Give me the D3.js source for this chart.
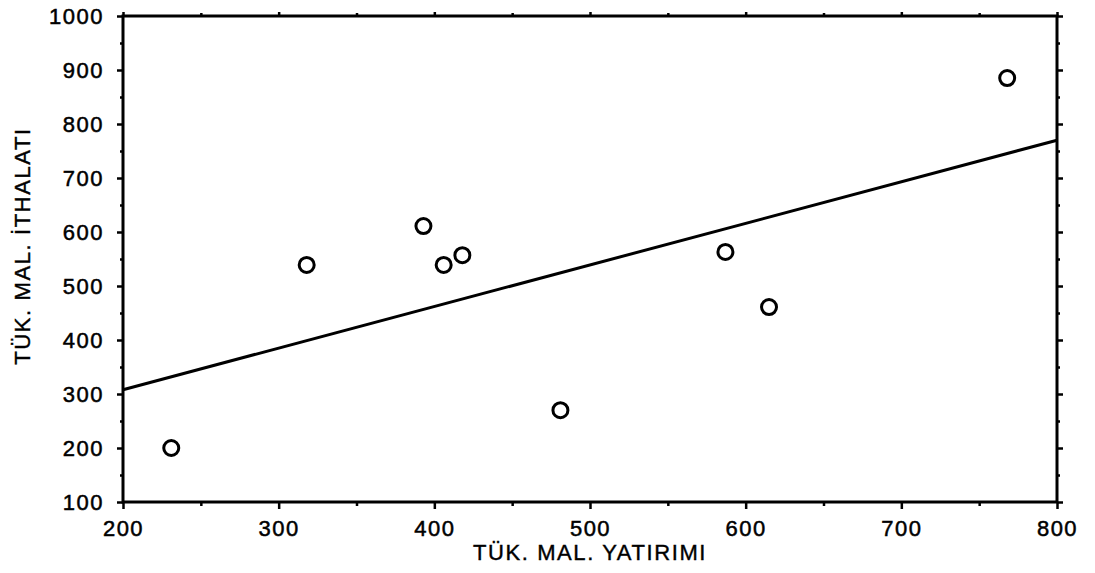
<!DOCTYPE html>
<html><head><meta charset="utf-8">
<script src="https://cdn.jsdelivr.net/npm/d3@7"></script>
<style>
body{margin:0;background:#fff;}
text{font-family:"Liberation Sans",Arial,sans-serif;fill:#000;}
</style></head><body>
<svg id="c" width="1095" height="573"></svg>
<script>
const xValues = [231, 318, 393, 406, 418, 481, 587, 615, 768];
const yValues = [200, 539, 611, 539, 557, 270, 563, 461, 885];
const fitX = [200, 800];
const fitY = [308, 770];
const xTicks = [200, 300, 400, 500, 600, 700, 800];
const yTicks = [100, 200, 300, 400, 500, 600, 700, 800, 900, 1000];
const xMinor = [250, 350, 450, 550, 650, 750];
const yMinor = [150, 250, 350, 450, 550, 650, 750, 850, 950];
const xTitle = "TÜK. MAL. YATIRIMI";
const yTitle = "TÜK. MAL. İTHALATI";

const svg = d3.select("#c");
const L = 123, R = 1057, T = 16, B = 502;
const x = d3.scaleLinear().domain([200, 800]).range([L, R]);
const y = d3.scaleLinear().domain([100, 1000]).range([B, T]);

const axStyle = g => { g.select(".domain").remove(); g.selectAll("line").attr("stroke","#000").attr("stroke-width",2.5); };
const font = g => g.selectAll("text").style("font-size","22px").style("letter-spacing","1.5px")
  .attr("fill","#000").attr("stroke","#000").attr("stroke-width",0.5);

// bottom
svg.append("g").attr("transform",`translate(0,${B})`)
  .call(d3.axisBottom(x).tickValues(xTicks).tickSize(7).tickPadding(11).tickFormat(d3.format("d")))
  .call(axStyle).call(font).attr("font-family",null);
svg.append("g").attr("transform",`translate(0,${B})`)
  .call(d3.axisBottom(x).tickValues(xMinor).tickSize(4).tickFormat(""))
  .call(axStyle);
// top
svg.append("g").attr("transform",`translate(0,${T})`)
  .call(d3.axisTop(x).tickValues(xTicks).tickSize(4).tickFormat("")).call(axStyle);
svg.append("g").attr("transform",`translate(0,${T})`)
  .call(d3.axisTop(x).tickValues(xMinor).tickSize(3).tickFormat("")).call(axStyle);
// left
svg.append("g").attr("transform",`translate(${L},0)`)
  .call(d3.axisLeft(y).tickValues(yTicks).tickSize(6).tickPadding(13).tickFormat(d3.format("d")))
  .call(axStyle).call(font).attr("font-family",null);
svg.append("g").attr("transform",`translate(${L},0)`)
  .call(d3.axisLeft(y).tickValues(yMinor).tickSize(3).tickFormat("")).call(axStyle);
// right
svg.append("g").attr("transform",`translate(${R},0)`)
  .call(d3.axisRight(y).tickValues(yTicks).tickSize(6).tickFormat("")).call(axStyle);
svg.append("g").attr("transform",`translate(${R},0)`)
  .call(d3.axisRight(y).tickValues(yMinor).tickSize(3).tickFormat("")).call(axStyle);

// frame
svg.append("rect").attr("x",L).attr("y",T).attr("width",R-L).attr("height",B-T)
  .attr("fill","none").attr("stroke","#000").attr("stroke-width",3);

// fit line
svg.append("line")
  .attr("x1",x(fitX[0])).attr("y1",y(fitY[0]))
  .attr("x2",x(fitX[1])).attr("y2",y(fitY[1]))
  .attr("stroke","#000").attr("stroke-width",3);

// points
svg.append("g").selectAll("circle").data(xValues.map((v,i)=>[v,yValues[i]])).join("circle")
  .attr("cx",d=>x(d[0])).attr("cy",d=>y(d[1])).attr("r",7.5)
  .attr("fill","none").attr("stroke","#000").attr("stroke-width",3);

// titles
svg.append("text").attr("x",(L+R)/2).attr("y",560).attr("text-anchor","middle")
  .style("font-size","22px").style("letter-spacing","1.6px").attr("stroke","#000").attr("stroke-width",0.4).text(xTitle);
svg.append("text").attr("transform",`translate(30,246) rotate(-90)`).attr("text-anchor","middle")
  .style("font-size","22px").style("letter-spacing","1.6px").attr("stroke","#000").attr("stroke-width",0.4).text(yTitle);
</script></body></html>
